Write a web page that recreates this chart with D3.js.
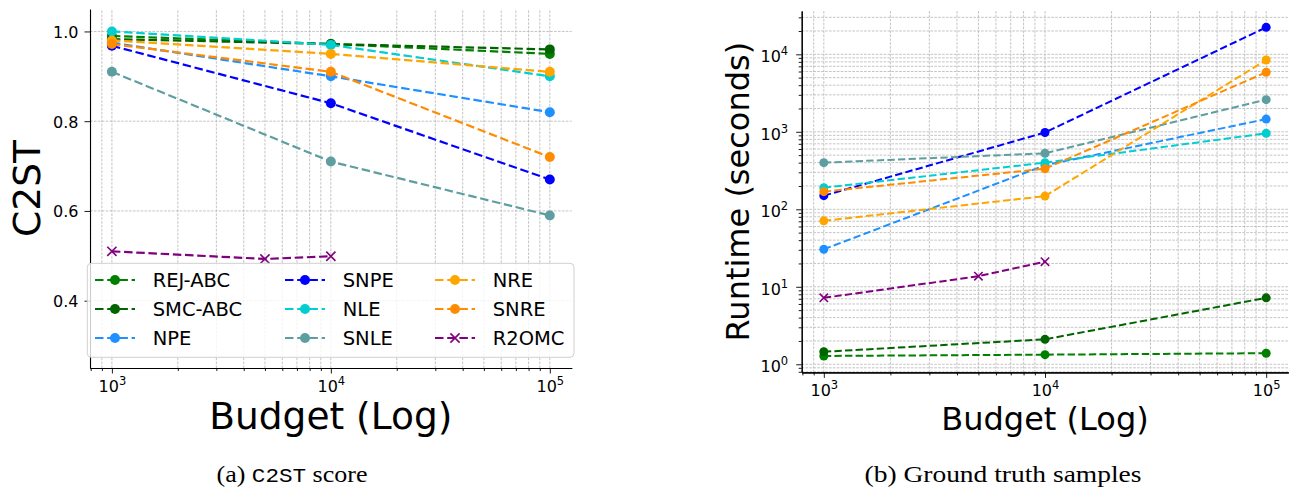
<!DOCTYPE html>
<html><head><meta charset="utf-8">
<script src="https://cdn.jsdelivr.net/npm/d3@7"></script>
<style>body{margin:0;background:#fff}svg{display:block}</style>
</head><body>
<svg id="c" width="1294" height="491"></svg>
<script>
// ---------------- data ----------------
const budgets = [1000, 10000, 100000];
const r2omcBudgets = [1000, 5000, 10000];
const methods = ["REJ-ABC", "SMC-ABC", "NPE", "SNPE", "NLE", "SNLE", "NRE", "SNRE", "R2OMC"];
const colors = ["#008000", "#006400", "#1E90FF", "#0000FF", "#00CED1", "#5F9EA0", "#FFA500", "#FF8C00", "#800080"];
const markers = ["o", "o", "o", "o", "o", "o", "o", "o", "x"];

// C2ST score (panel a)
const c2stREJ = [0.99, 0.972, 0.95];
const c2stSMC = [0.983, 0.972, 0.96];
const c2stNPE = [0.975, 0.90, 0.82];
const c2stSNPE = [0.968, 0.84, 0.67];
const c2stNLE = [1.00, 0.97, 0.90];
const c2stSNLE = [0.91, 0.71, 0.59];
const c2stNRE = [0.98, 0.95, 0.91];
const c2stSNRE = [0.972, 0.91, 0.72];
const c2stR2OMC = [0.51, 0.493, 0.499];

// Runtime in seconds (panel b)
const rtREJ = [1.28, 1.33, 1.39];
const rtSMC = [1.45, 2.1, 7.2];
const rtNPE = [30.5, 370, 1460];
const rtSNPE = [150, 980, 22300];
const rtNLE = [190, 400, 955];
const rtSNLE = [400, 528, 2600];
const rtNRE = [71, 148, 8440];
const rtSNRE = [169, 334, 5860];
const rtR2OMC = [7.2, 13.7, 21.1];

const c2stTicks = [0.4, 0.6, 0.8, 1.0];

// ---------------- build ----------------
const c2stAll = [c2stREJ, c2stSMC, c2stNPE, c2stSNPE, c2stNLE, c2stSNLE, c2stNRE, c2stSNRE, c2stR2OMC];
const rtAll = [rtREJ, rtSMC, rtNPE, rtSNPE, rtNLE, rtSNLE, rtNRE, rtSNRE, rtR2OMC];
function makeSeries(vals) {
  return methods.map((m, i) => {
    const xs = m === "R2OMC" ? r2omcBudgets : budgets;
    return { name: m, color: colors[i], marker: markers[i], pts: xs.map((b, j) => [b, vals[i][j]]) };
  });
}

const svg = d3.select("#c");
const FONT = "'DejaVu Sans', sans-serif";

function logMargin(vals) {
  const lo = Math.log10(d3.min(vals)), hi = Math.log10(d3.max(vals));
  const m = (hi - lo) * 0.05;
  return [Math.pow(10, lo - m), Math.pow(10, hi + m)];
}
const isPow10 = d => Math.abs(Math.log10(d) - Math.round(Math.log10(d))) < 1e-9;

function supText(t, d, supSize, supDy) {
  const e = Math.round(Math.log10(d));
  t.text(null);
  t.append("tspan").text("10");
  t.append("tspan").attr("font-size", supSize).attr("dy", supDy).text(String(e));
}

function panel(o) {
  const g = svg.append("g");
  const x = d3.scaleLog().domain(o.xDomain).range(o.xRange);
  const y = (o.yLog ? d3.scaleLog() : d3.scaleLinear()).domain(o.yDomain).range(o.yRange);
  const xt = x.ticks();
  const yt = o.yLog ? y.ticks() : o.yTicks;
  const gridStyle = s => s.attr("stroke", "#b5b5b5").attr("stroke-width", 0.8).attr("stroke-dasharray", "2.6,1.3");

  // grid
  g.append("g").selectAll("line").data(xt).join("line")
    .attr("x1", d => x(d)).attr("x2", d => x(d))
    .attr("y1", o.yRange[0]).attr("y2", o.yRange[1]).call(gridStyle);
  g.append("g").selectAll("line").data(yt).join("line")
    .attr("y1", d => y(d)).attr("y2", d => y(d))
    .attr("x1", o.xRange[0]).attr("x2", o.xRange[1]).call(gridStyle);

  // series
  const line = d3.line().x(d => x(d[0])).y(d => y(d[1]));
  o.series.forEach(s => {
    const sg = g.append("g");
    sg.append("path").attr("d", line(s.pts)).attr("fill", "none")
      .attr("stroke", s.color).attr("stroke-width", o.lw).attr("stroke-dasharray", o.dash);
    if (s.marker === "o") {
      sg.selectAll("circle").data(s.pts).join("circle")
        .attr("cx", d => x(d[0])).attr("cy", d => y(d[1])).attr("r", o.r).attr("fill", s.color);
    } else {
      const h = o.xs;
      sg.selectAll("path.x").data(s.pts).join("path").attr("class", "x")
        .attr("d", d => { const cx = x(d[0]), cy = y(d[1]);
          return `M${cx-h},${cy-h}L${cx+h},${cy+h}M${cx-h},${cy+h}L${cx+h},${cy-h}`; })
        .attr("stroke", s.color).attr("stroke-width", 1.6).attr("fill", "none");
    }
  });

  // x axis
  const xMinor = g.append("g").attr("transform", `translate(0,${o.yRange[0]})`)
    .call(d3.axisBottom(x).tickValues(xt.filter(d => !isPow10(d))).tickSize(3).tickSizeOuter(0).tickFormat(""));
  const xMajor = g.append("g").attr("transform", `translate(0,${o.yRange[0]})`)
    .call(d3.axisBottom(x).tickValues(xt.filter(isPow10)).tickSize(5.5).tickSizeOuter(0));
  xMajor.selectAll(".tick text").attr("y", o.xLabelDy).attr("dy", null)
    .attr("font-size", o.tickFont).attr("font-family", FONT).attr("fill", "#000")
    .each(function (d) { supText(d3.select(this), d, o.supFont, -7); });

  // y axis
  let yMajorVals = o.yLog ? yt.filter(isPow10) : o.yTicks;
  if (o.yLog) {
    g.append("g").attr("transform", `translate(${o.xRange[0]},0)`)
      .call(d3.axisLeft(y).tickValues(yt.filter(d => !isPow10(d))).tickSize(3).tickSizeOuter(0).tickFormat(""));
  }
  const yMajor = g.append("g").attr("transform", `translate(${o.xRange[0]},0)`)
    .call(d3.axisLeft(y).tickValues(yMajorVals).tickSize(5.5).tickSizeOuter(0).tickPadding(o.yPad)
      .tickFormat(o.yLog ? null : d3.format(".1f")));
  yMajor.selectAll(".tick text").attr("dy", o.yLabelDy)
    .attr("font-size", o.tickFont).attr("font-family", FONT).attr("fill", "#000");
  if (o.yLog) yMajor.selectAll(".tick text").each(function (d) { supText(d3.select(this), d, o.supFont, -7); });

  g.selectAll(".domain").attr("stroke", "#000").attr("stroke-width", 1.1);
  g.selectAll(".tick line").attr("stroke", "#000").attr("stroke-width", 0.9);

  // titles
  const cx = (o.xRange[0] + o.xRange[1]) / 2, cy = (o.yRange[0] + o.yRange[1]) / 2;
  svg.append("text").attr("x", cx).attr("y", o.xTitleY).attr("text-anchor", "middle")
    .attr("font-family", FONT).attr("font-size", o.titleFont).text(o.xTitle);
  svg.append("text").attr("transform", `translate(${o.yTitleX},${cy}) rotate(-90)`).attr("text-anchor", "middle")
    .attr("font-family", FONT).attr("font-size", o.titleFont).text(o.yTitle);
  return { g, x, y };
}

const xDom = [Math.pow(10, 2.9), Math.pow(10, 5.1)];

// Panel (a)
const A = panel({
  series: makeSeries(c2stAll), xDomain: xDom, xRange: [90, 571.7],
  yLog: false, yDomain: [0.25, 1.05], yRange: [368, 9], yTicks: c2stTicks,
  lw: 2.2, dash: "8.5,3.7", r: 5, xs: 4.6,
  tickFont: "16px", supFont: "11.5px", xLabelDy: 24, yLabelDy: 6, yPad: 6,
  titleFont: "37.5px", xTitle: "Budget (Log)", yTitle: "C2ST", xTitleY: 429, yTitleX: 40
});

// Panel (b)
const rtFlat = rtAll.flat();
const B = panel({
  series: makeSeries(rtAll), xDomain: xDom, xRange: [801.7, 1288.3],
  yLog: true, yDomain: logMargin(rtFlat), yRange: [372.4, 10.9],
  lw: 2, dash: "7.4,3.2", r: 4.5, xs: 4.2,
  tickFont: "16px", supFont: "11.5px", xLabelDy: 23.5, yLabelDy: 7.5, yPad: 8,
  titleFont: "32px", xTitle: "Budget (Log)", yTitle: "Runtime (seconds)", xTitleY: 430, yTitleX: 749
});

// Legend for panel (a)
const leg = svg.append("g");
leg.append("rect").attr("x", 87.3).attr("y", 263.3).attr("width", 486.7).attr("height", 94)
  .attr("rx", 4).attr("fill", "#fff").attr("fill-opacity", 0.8).attr("stroke", "#d0d0d0").attr("stroke-width", 1);
const colX = [95, 285, 435], rowY = [280, 309, 338];
methods.forEach((m, i) => {
  const c = Math.floor(i / 3), r = i % 3;
  const x0 = colX[c], yy = rowY[r];
  const it = leg.append("g");
  it.append("line").attr("x1", x0).attr("x2", x0 + 40).attr("y1", yy).attr("y2", yy)
    .attr("stroke", colors[i]).attr("stroke-width", 2.2).attr("stroke-dasharray", "8.5,3.7");
  if (markers[i] === "o") {
    it.append("circle").attr("cx", x0 + 20).attr("cy", yy).attr("r", 5).attr("fill", colors[i]);
  } else {
    const h = 4.6, cx = x0 + 20;
    it.append("path").attr("d", `M${cx-h},${yy-h}L${cx+h},${yy+h}M${cx-h},${yy+h}L${cx+h},${yy-h}`)
      .attr("stroke", colors[i]).attr("stroke-width", 1.6);
  }
  it.append("text").attr("x", x0 + 57.7).attr("y", yy + 7).attr("font-family", FONT)
    .attr("font-size", "19.5px").text(m);
});

// Captions
const capA = svg.append("text").attr("x", 292).attr("y", 482).attr("text-anchor", "middle")
  .attr("font-family", "'Liberation Serif', serif").attr("font-size", "23px")
  .attr("textLength", 151).attr("lengthAdjust", "spacingAndGlyphs");
capA.append("tspan").text("(a) ");
capA.append("tspan").attr("font-family", "'Liberation Mono', monospace").attr("font-size", "20px").text("C2ST");
capA.append("tspan").text(" score");
svg.append("text").attr("x", 1003).attr("y", 482).attr("text-anchor", "middle")
  .attr("font-family", "'Liberation Serif', serif").attr("font-size", "23px")
  .attr("textLength", 277).attr("lengthAdjust", "spacingAndGlyphs").text("(b) Ground truth samples");
</script>
</body></html>
